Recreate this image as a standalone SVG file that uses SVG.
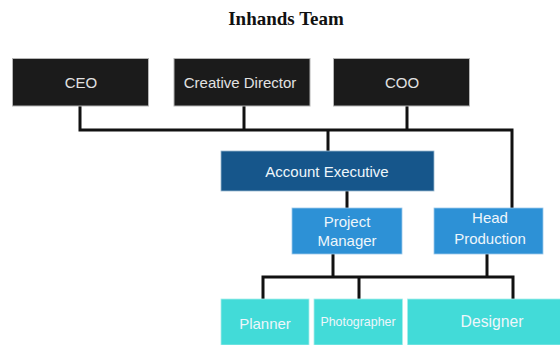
<svg xmlns="http://www.w3.org/2000/svg" width="560" height="345" viewBox="0 0 560 345">
<style>
.t{font-family:"Liberation Sans",Arial,sans-serif;font-size:15px;text-anchor:middle}
.top rect{fill:#1b1b1b;stroke:#b5b5b5;stroke-width:1}
.top text{fill:#e2e2e2}
.ae rect{fill:#16568b;stroke:#9ab8cf;stroke-width:0.8}
.mid rect{fill:#2d91d6;stroke:#9cc9ea;stroke-width:0.8}
.bot rect{fill:#42dbd8;stroke:#a8eeec;stroke-width:0.8}
.lt{fill:#eef6fb}
#conn path{fill:none;stroke:#111;stroke-width:3}
</style>
<rect width="560" height="345" fill="#fff"/>
<text x="286" y="25" font-family="'Liberation Serif','Times New Roman',serif" font-size="19" font-weight="bold" text-anchor="middle" fill="#111">Inhands Team</text>
<g id="conn">
<path d="M80,106 V130 H512 V208"/>
<path d="M244,106 V130"/>
<path d="M407,106 V130"/>
<path d="M328,130 V151"/>
<path d="M347,191 V208"/>
<path d="M333,254 V277"/>
<path d="M487,254 V277"/>
<path d="M263,299 V277 H513 V299"/>
<path d="M359,277 V299"/>
</g>
<g id="ceo" class="top"><rect x="12.5" y="58.5" width="136" height="47.5"/><text class="t" x="81" y="88">CEO</text></g>
<g id="creative-director" class="top"><rect x="174" y="58.5" width="136" height="47.5"/><text class="t" x="240" y="88">Creative Director</text></g>
<g id="coo" class="top"><rect x="333.5" y="58.5" width="136" height="47.5"/><text class="t" x="402" y="88">COO</text></g>
<g id="account-executive" class="ae"><rect x="221" y="151" width="213" height="40"/><text class="t lt" x="327" y="177">Account Executive</text></g>
<g id="project-manager" class="mid"><rect x="292" y="208" width="110" height="46"/><text class="t lt" x="347" y="226.5">Project</text><text class="t lt" x="347" y="246">Manager</text></g>
<g id="head-production" class="mid"><rect x="434" y="208" width="109" height="46"/><text class="t lt" x="490" y="223">Head</text><text class="t lt" x="490" y="243.5">Production</text></g>
<g id="planner" class="bot"><rect x="221" y="299" width="88" height="46"/><text class="t lt" x="265" y="328.5">Planner</text></g>
<g id="photographer" class="bot"><rect x="314" y="299" width="88.5" height="46"/><text class="t lt" x="358" y="325.5" style="font-size:12.4px">Photographer</text></g>
<g id="designer" class="bot"><rect x="407.5" y="299" width="160" height="46"/><text class="t lt" x="492" y="327" style="font-size:15.7px">Designer</text></g>
</svg>
